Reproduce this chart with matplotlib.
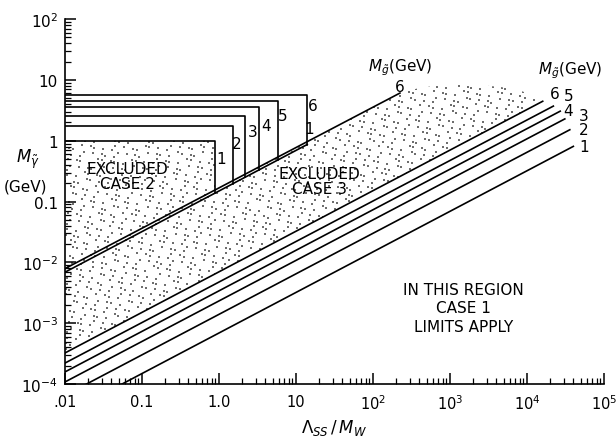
import numpy as np
import matplotlib
matplotlib.use("Agg")
import matplotlib.pyplot as plt
from matplotlib.patches import Polygon

plt.rcParams['font.family'] = ['DejaVu Sans']
plt.rcParams['mathtext.fontset'] = 'dejavusans'

# ---- data ----
# lower family of lines (gluino mass, GeV)
lower_masses = [1, 2, 3, 4, 5, 6]
lower_x_start = [0.01, 0.01, 0.01, 0.01, 0.01, 0.01]
lower_y_start = [3.2e-5, 6.5e-5, 1.08e-4, 1.58e-4, 2.21e-4, 3.24e-4]
lower_x_end = [4.0e4, 3.6e4, 3.1e4, 2.7e4, 2.2e4, 1.6e4]
lower_y_end = [0.81, 1.52, 2.29, 3.07, 3.72, 4.47]

# upper pair of lines (gluino mass 1 and 6 GeV)
upper_masses = [1, 6]
upper_x_start = [0.01, 0.01]
upper_y_start = [6.9e-3, 7.9e-3]
upper_x_end = [14.0, 224.0]
upper_y_end = [0.87, 6.1]

# boxes (case 2 limits), gluino mass 1..6
box_labels = ['1', '2', '3', '4', '5', '6']
box_x = [0.89, 1.5, 2.2, 3.3, 5.8, 13.9]
box_y = [1.0, 1.78, 2.6, 3.6, 4.6, 5.7]

# upper edge of stippled (case 3) region
dome_x = [224, 400, 700, 1230, 2500, 4470, 8000, 1.2e4, 1.6e4]
dome_y = [6.1, 7.4, 8.1, 8.3, 8.2, 7.7, 6.8, 5.5, 4.47]

xticks = [0.01, 0.1, 1, 10, 1e2, 1e3, 1e4, 1e5]
xticklabels = ['.01', '0.1', '1.0', '10', r'$10^2$', r'$10^3$', r'$10^4$', r'$10^5$']
yticks = [1e-4, 1e-3, 1e-2, 0.1, 1, 10, 100]
yticklabels = [r'$10^{-4}$', r'$10^{-3}$', r'$10^{-2}$', '0.1', '1', '10', r'$10^2$']

fig = plt.figure(figsize=(6.16, 4.39), dpi=100)
ax = fig.add_axes([0.1055, 0.123, 0.875, 0.831])
ax.set_xscale('log')
ax.set_yscale('log')
ax.set_xlim(0.01, 1e5)
ax.set_ylim(1e-4, 1e2)

def line_y(x, xs, ys, xe, ye):
    return 10 ** np.interp(np.log10(x), np.log10([xs, xe]), np.log10([ys, ye]))

def lower_pair_y(x):
    return line_y(x, upper_x_start[0], upper_y_start[0], upper_x_end[0], upper_y_end[0])

def upper_line_y(x):
    return line_y(x, upper_x_start[1], upper_y_start[1], upper_x_end[1], upper_y_end[1])

# stippled region outline (invisible, used as clip path)
b1x, b1y = box_x[0], box_y[0]
poly = [(lower_x_start[5], lower_y_start[5]), (0.01, b1y), (b1x, b1y),
        (b1x, upper_line_y(b1x))]
poly += list(zip(dome_x, dome_y))
poly += [(lower_x_end[5], lower_y_end[5]), (lower_x_start[5], lower_y_start[5])]
region = Polygon(poly, closed=True, facecolor='none', edgecolor='none',
                 linewidth=0, zorder=1)
ax.add_patch(region)

# stipple texture: deterministic quasi-uniform dot field in axes fraction
nx, ny = 78, 54
gx, gy = np.meshgrid(np.arange(nx), np.arange(ny))
k = (gx * ny + gy).ravel().astype(float)
jx = np.mod(k * 0.6180339887, 1.0) - 0.5
jy = np.mod(k * 0.7548776662, 1.0) - 0.5
sx = (gx.ravel() + 0.5 * (gy.ravel() % 2) + 0.8 * jx) / nx
sy = (gy.ravel() + 0.8 * jy) / ny
dots = ax.scatter(sx, sy, s=0.8, marker='s', color='#6e6e6e', linewidths=0,
                  transform=ax.transAxes, zorder=1)
dots.set_clip_path(region)

lw = 1.2
for i in range(len(lower_masses)):
    ax.plot([lower_x_start[i], lower_x_end[i]], [lower_y_start[i], lower_y_end[i]],
            color='black', lw=lw, zorder=3)
for i in range(len(upper_masses)):
    ax.plot([upper_x_start[i], upper_x_end[i]], [upper_y_start[i], upper_y_end[i]],
            color='black', lw=lw, zorder=3)
for bx, by in zip(box_x, box_y):
    ax.plot([0.01, bx, bx], [by, by, lower_pair_y(bx)], color='black', lw=lw, zorder=3)

fs = 11
# box labels
box_lab_pos = [(1.06, 0.51), (1.7, 0.89), (2.7, 1.4), (4.1, 1.76), (6.8, 2.57), (16.6, 3.75)]
for lab, (px, py) in zip(box_labels, box_lab_pos):
    ax.text(px, py, lab, fontsize=fs, ha='center', va='center')
ax.text(15.0, 1.57, '1', fontsize=fs, ha='center', va='center')
ax.text(224, 7.9, '6', fontsize=fs, ha='center', va='center')
ax.text(224, 16.3, r'$M_{\tilde{g}}$(GeV)', fontsize=fs, ha='center', va='center')
ax.text(3.7e4, 15.0, r'$M_{\tilde{g}}$(GeV)', fontsize=fs, ha='center', va='center')
right_lab = [('6', 2.3e4, 5.9), ('5', 3.5e4, 5.5), ('4', 3.4e4, 3.2),
             ('3', 5.4e4, 2.57), ('2', 5.4e4, 1.51), ('1', 5.6e4, 0.8)]
for lab, px, py in right_lab:
    ax.text(px, py, lab, fontsize=fs, ha='center', va='center')

ax.text(0.065, 0.26, 'EXCLUDED\nCASE 2', fontsize=fs, ha='center', va='center',
        linespacing=1.0, zorder=4)
ax.text(20, 0.22, 'EXCLUDED\nCASE 3', fontsize=fs, ha='center', va='center',
        linespacing=1.0, zorder=4)
ax.text(1500, 1.8e-3, 'IN THIS REGION\nCASE 1\nLIMITS APPLY', fontsize=fs,
        ha='center', va='center', linespacing=1.3)

# axes styling
for s in ['top', 'right']:
    ax.spines[s].set_visible(False)
for s in ['left', 'bottom']:
    ax.spines[s].set_linewidth(1.2)
ax.set_xticks(xticks)
ax.set_xticklabels(xticklabels, fontsize=10.5)
ax.set_yticks(yticks)
ax.set_yticklabels(yticklabels, fontsize=fs)
ax.tick_params(which='major', direction='in', length=8, width=1.1, pad=7)
ax.tick_params(which='minor', direction='in', length=4, width=0.9)
ax.tick_params(axis='y', which='major', pad=5)

ax.set_xlabel(r'$\Lambda_{SS}\,/\,M_W$', fontsize=fs + 1, labelpad=3)
fig.text(0.045, 0.636, r'$M_{\tilde{\gamma}}$', fontsize=fs + 1, ha='center', va='center')
fig.text(0.042, 0.575, '(GeV)', fontsize=fs, ha='center', va='center')

fig.savefig('out.png', dpi=100)
